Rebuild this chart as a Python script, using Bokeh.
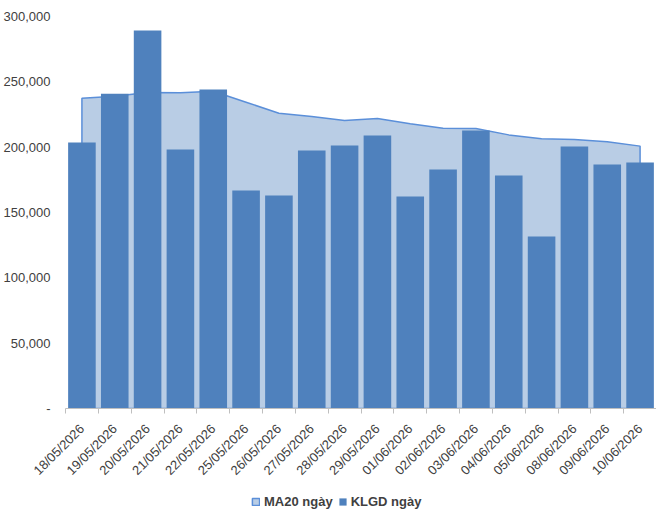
import numpy as np
from bokeh.plotting import figure
from bokeh.layouts import column
from bokeh.models import Range1d, FixedTicker, CustomJSTickFormatter, Legend, LegendItem, ColumnDataSource
from bokeh.embed import file_html
from bokeh.resources import INLINE
from math import pi

dates = ["18/05/2026", "19/05/2026", "20/05/2026", "21/05/2026", "22/05/2026",
         "25/05/2026", "26/05/2026", "27/05/2026", "28/05/2026", "29/05/2026",
         "01/06/2026", "02/06/2026", "03/06/2026", "04/06/2026", "05/06/2026",
         "08/06/2026", "09/06/2026", "10/06/2026"]
klgd = [203600, 240800, 289300, 198200, 244100, 166800, 163000, 197400, 201300,
        208900, 162200, 182900, 212800, 178300, 131600, 200500, 186700, 188300]
ma20 = [237500, 239000, 241800, 241600, 242800, 234400, 226000, 223500, 220400,
        221900, 217900, 214500, 214300, 209400, 206400, 205900, 204100, 200800]
y_ticks = [0, 50000, 100000, 150000, 200000, 250000, 300000]

n = len(dates)
idx = list(range(n))

FONT = "Liberation Sans"
TXT = "#404040"
FILL_MA = "#B9CDE5"
LINE_MA = "#5B8FD9"
BAR = "#4F81BD"

px = [idx[0]] + idx + [idx[-1]]
py = [0] + ma20 + [0]
src = ColumnDataSource(dict(x=idx, top=klgd))

p = figure(width=656, height=486, output_backend="svg", toolbar_location=None,
           x_range=Range1d(-0.5, n - 0.5), y_range=Range1d(0, 300000),
           min_border_left=56, min_border_right=0, min_border_top=16, min_border_bottom=70)
p.outline_line_color = None
p.grid.grid_line_color = None

p.patch(px, py, fill_color=FILL_MA, line_color=LINE_MA, line_width=1.5)
p.vbar(x="x", top="top", width=0.84, source=src, fill_color=BAR, line_color=None)

# y axis
ya = p.yaxis[0]
ya.ticker = FixedTicker(ticks=y_ticks)
ya.formatter = CustomJSTickFormatter(code="return tick == 0 ? '-' : tick.toLocaleString('en-US');")
ya.axis_line_color = None
ya.major_tick_line_color = None
ya.minor_tick_line_color = None
ya.major_label_text_font = FONT
ya.major_label_text_font_size = "13px"
ya.major_label_text_color = TXT
ya.major_label_standoff = 9

# x axis
xa = p.xaxis[0]
xa.ticker = FixedTicker(ticks=idx, minor_ticks=[i - 0.5 for i in range(n + 1)])
xa.major_label_overrides = {i: d for i, d in zip(idx, dates)}
xa.major_label_orientation = pi / 4
xa.major_tick_line_color = None
xa.minor_tick_line_color = "#BFBFBF"
xa.minor_tick_out = 5
xa.minor_tick_in = 0
xa.axis_line_color = "#BFBFBF"
xa.major_label_text_font = FONT
xa.major_label_text_font_size = "13px"
xa.major_label_text_color = TXT
xa.major_label_standoff = 12

# legend strip: same series drawn far out of view, only the legend shows
p2 = figure(width=656, height=27, output_backend="svg", toolbar_location=None,
            x_range=Range1d(-0.5, n - 0.5), y_range=Range1d(1e7, 2e7),
            min_border=0, x_axis_location=None, y_axis_location=None)
p2.outline_line_color = None
p2.grid.grid_line_color = None
r_ma = p2.patch(px, py, fill_color=FILL_MA, line_color=LINE_MA, line_width=1.5)
r_bar = p2.vbar(x="x", top="top", width=0.84, source=src, fill_color=BAR, line_color=None)

legend = Legend(items=[LegendItem(label="MA20 ngày", renderers=[r_ma]),
                       LegendItem(label="KLGD ngày", renderers=[r_bar])],
                orientation="horizontal", location=(186, 4))
legend.label_text_font = FONT
legend.label_text_font_style = "bold"
legend.label_text_font_size = "13px"
legend.label_text_color = TXT
legend.glyph_width = 9
legend.glyph_height = 9
legend.spacing = 5
legend.label_standoff = 4
legend.border_line_color = None
legend.background_fill_alpha = 0
legend.margin = 0
legend.padding = 2
p2.add_layout(legend)

layout = column(p, p2, spacing=0)
open("out.html", "w").write(file_html(layout, INLINE))
